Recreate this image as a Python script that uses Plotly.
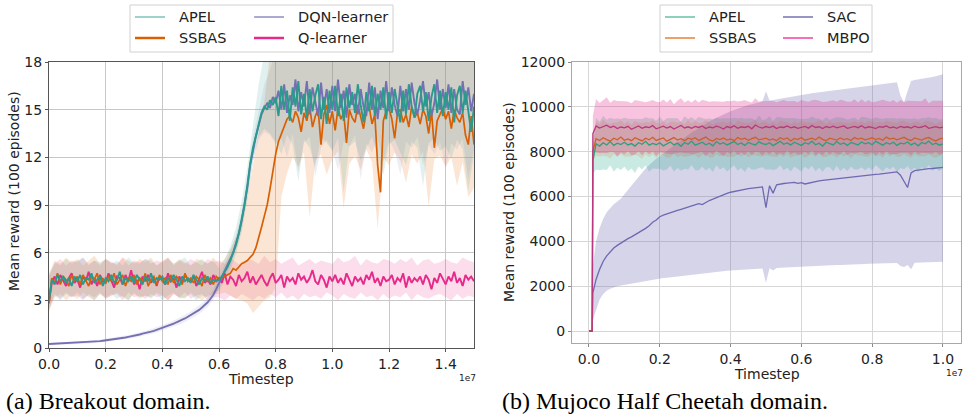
import plotly.graph_objects as go

# ---------------- Breakout (left) ----------------
breakout_steps = [i / 100 for i in range(151)]          # x in units of 1e7
band_steps = [i / 50 for i in range(76)]                 # band grid in units of 1e7

q_learner = [
    2.9, 4.1, 4.5, 4.0, 4.6, 4.2, 3.9, 4.4, 4.7, 4.1,
    4.3, 3.8, 4.5, 4.2, 4.8, 4.0, 4.4, 3.9, 4.6, 4.2,
    4.1, 4.7, 4.3, 3.8, 4.5, 4.4, 4.0, 4.6, 4.2, 4.9,
    4.0, 4.3, 3.7, 4.5, 4.2, 4.6, 4.1, 4.4, 3.9, 4.5,
    4.3, 4.0, 4.7, 4.2, 4.4, 3.8, 4.5, 4.1, 4.6, 4.3,
    4.2, 4.5, 3.9, 4.4, 4.8, 4.1, 4.3, 4.0, 4.6, 4.2,
    4.4, 4.1, 4.7, 4.0, 4.5, 4.3, 3.9, 4.6, 4.2, 4.4,
    4.8, 4.1, 4.5, 4.0, 4.3, 4.6, 4.2, 3.9, 4.4, 4.7,
    4.1, 4.3, 4.6, 3.8, 4.5, 4.2, 4.4, 4.0, 4.7, 4.3,
    4.5, 4.1, 4.4, 4.9, 4.2, 4.0, 4.6, 4.3, 3.8, 4.5,
    4.2, 4.6, 4.1, 4.4, 4.0, 4.7, 4.3, 3.9, 4.5, 4.2,
    4.4, 4.0, 4.6, 4.3, 4.8, 4.1, 4.4, 3.9, 4.5, 4.2,
    4.3, 4.6, 4.0, 4.4, 4.2, 4.7, 3.8, 4.5, 4.1, 4.4,
    4.2, 4.5, 4.0, 4.6, 4.3, 3.7, 4.4, 4.1, 4.7, 4.3,
    4.0, 4.5, 4.2, 4.8, 4.1, 4.4, 3.9, 4.6, 4.3, 4.5,
    4.2]

apel = [
    3.0, 4.3, 4.0, 4.6, 4.2, 4.5, 4.1, 4.4, 3.9, 4.5,
    4.2, 4.6, 4.0, 4.4, 4.3, 4.7, 4.1, 4.3, 4.5, 3.9,
    4.4, 4.2, 4.6, 4.1, 4.3, 4.8, 4.0, 4.4, 4.2, 4.5,
    4.1, 4.6, 4.3, 4.0, 4.5, 4.2, 4.7, 4.1, 4.4, 4.3,
    4.5, 4.0, 4.4, 4.2, 4.6, 4.3, 3.9, 4.5, 4.2, 4.4,
    4.1, 4.6, 4.3, 4.0, 4.4, 4.2, 4.5, 4.1, 4.3, 4.2,
    4.3, 4.5, 4.8, 5.1, 5.5, 6.0, 6.5, 7.2, 8.0, 9.0,
    10.2, 11.6, 12.6, 13.4, 14.1, 14.8, 15.2, 15.0, 15.6, 15.3,
    15.8, 14.6, 16.5, 15.0, 16.2, 14.3, 16.4, 15.2, 16.8, 14.7,
    16.0, 14.5, 16.3, 14.9, 15.9, 16.6, 14.4, 15.8, 14.1, 16.2,
    15.0, 16.5, 14.6, 16.0, 14.3, 16.4, 15.1, 16.1, 14.8, 16.6,
    15.3, 14.2, 16.1, 14.9, 16.5, 14.6, 16.0, 15.0, 16.4, 14.4,
    16.1, 14.8, 16.3, 15.1, 14.2, 16.2, 14.7, 16.6, 15.2, 14.5,
    16.0, 16.5, 14.9, 16.1, 14.3, 15.8, 16.6, 14.8, 16.2, 14.6,
    16.1, 15.0, 16.4, 14.2, 15.9, 16.5, 14.8, 16.2, 14.9, 13.6,
    15.2]

dqn = [
    0.25, 0.26, 0.25, 0.27, 0.28, 0.27, 0.29, 0.30, 0.29, 0.31,
    0.32, 0.33, 0.34, 0.35, 0.36, 0.37, 0.39, 0.41, 0.43, 0.46,
    0.48, 0.50, 0.53, 0.56, 0.58, 0.60, 0.63, 0.66, 0.70, 0.73,
    0.77, 0.81, 0.85, 0.90, 0.93, 0.98, 1.03, 1.08, 1.14, 1.20,
    1.27, 1.33, 1.38, 1.46, 1.53, 1.62, 1.68, 1.78, 1.86, 1.97,
    2.05, 2.16, 2.28, 2.40, 2.55, 2.70, 2.88, 3.10, 3.35, 3.70,
    4.10, 4.45, 4.80, 5.20, 5.60, 6.00, 6.60, 7.20, 8.00, 9.00,
    10.1, 11.5, 12.5, 13.3, 14.0, 14.7, 15.1, 15.4, 15.1, 15.8,
    15.4, 16.2, 15.0, 16.6, 14.8, 15.9, 15.3, 16.9, 14.9, 16.1,
    15.2, 16.8, 14.7, 16.4, 15.5, 14.6, 16.7, 15.0, 16.3, 14.8,
    16.5, 14.9, 16.9, 15.1, 16.2, 14.5, 16.6, 15.3, 16.0, 14.7,
    16.3, 15.2, 14.6, 16.7, 15.0, 16.4, 14.4, 16.2, 15.1, 16.8,
    14.9, 16.4, 15.3, 14.6, 16.5, 14.9, 16.3, 15.0, 16.7, 15.4,
    14.7, 15.6, 16.8, 15.2, 16.1, 14.6, 15.4, 16.9, 15.0, 16.3,
    15.1, 16.6, 14.8, 16.3, 15.0, 14.7, 16.8, 15.3, 16.4, 14.9,
    16.0]

ssbas = [
    2.8, 4.4, 4.1, 4.7, 4.0, 4.5, 4.3, 3.9, 4.6, 4.2,
    4.5, 4.0, 4.6, 4.2, 3.9, 4.5, 4.3, 4.7, 4.0, 4.4,
    4.1, 4.5, 4.2, 4.7, 4.0, 4.3, 4.6, 3.9, 4.4, 4.2,
    4.6, 4.0, 4.4, 4.2, 4.7, 3.9, 4.3, 4.5, 4.0, 4.6,
    4.2, 4.4, 4.0, 4.6, 4.1, 4.5, 4.3, 4.0, 4.7, 4.2,
    4.4, 4.1, 4.5, 4.3, 3.9, 4.6, 4.2, 4.4, 4.0, 4.5,
    4.3, 4.4, 4.5, 4.6, 4.7, 5.0, 4.9, 5.1, 5.3, 5.4,
    5.5, 5.7, 5.9, 6.3, 6.9, 7.6, 8.3, 9.0, 10.0, 11.1,
    12.2, 13.0, 13.5, 14.0, 14.4, 14.6, 14.2, 14.9, 14.5, 13.6,
    14.8, 14.3, 15.2, 13.9, 14.6, 15.0, 12.8, 14.7, 15.3, 14.1,
    14.9, 13.7, 15.1, 14.4, 14.8, 12.9, 15.0, 14.5, 14.2, 15.3,
    14.6, 13.8, 14.9, 15.2, 14.1, 14.7, 11.5, 9.8, 14.3, 14.9,
    15.1, 14.4, 13.2, 14.8, 15.0, 14.2, 14.7, 13.9, 15.2, 14.5,
    14.8, 14.1, 15.0, 14.6, 13.5, 14.9, 12.6, 14.3, 14.7, 15.1,
    14.4, 14.9, 13.8, 15.0, 14.5, 14.2, 14.8, 13.4, 12.8, 14.6,
    12.8]

q_lo = [
    2.5, 3.4, 3.1, 3.5, 3.2, 3.3, 3.0, 3.4, 3.2, 3.5,
    3.1, 3.3, 3.4, 3.0, 3.5, 3.2, 3.3, 3.1, 3.4, 3.2,
    3.3, 3.0, 3.4, 3.2, 3.5, 3.1, 3.3, 3.4, 3.0, 3.2,
    3.2, 3.0, 3.3, 3.1, 3.4, 3.2, 3.0, 3.3, 3.1, 3.4,
    3.2, 3.5, 3.1, 3.3, 3.0, 3.4, 3.2, 3.3, 3.1, 3.5,
    3.3, 3.0, 3.4, 3.2, 3.1, 3.5, 3.2, 3.3, 3.0, 3.4,
    3.1, 3.3, 3.2, 3.5, 3.0, 3.4, 3.2, 3.1, 3.3, 3.4,
    3.2, 3.0, 3.4, 3.1, 3.3, 3.2]
q_hi = [
    4.5, 5.3, 5.6, 5.2, 5.5, 5.4, 5.7, 5.3, 5.5, 5.2,
    5.6, 5.4, 5.3, 5.7, 5.2, 5.5, 5.4, 5.6, 5.3, 5.5,
    5.4, 5.7, 5.2, 5.5, 5.3, 5.6, 5.4, 5.2, 5.6, 5.4,
    5.5, 5.3, 5.7, 5.4, 5.2, 5.6, 5.5, 5.3, 5.8, 5.4,
    5.6, 5.3, 5.5, 5.7, 5.2, 5.4, 5.6, 5.3, 5.5, 5.4,
    5.3, 5.7, 5.4, 5.5, 5.8, 5.2, 5.6, 5.4, 5.3, 5.6,
    5.5, 5.3, 5.6, 5.4, 5.7, 5.2, 5.5, 5.6, 5.3, 5.4,
    5.6, 5.4, 5.3, 5.7, 5.5, 5.4]

apel_lo = [
    2.4, 3.3, 3.0, 3.4, 3.2, 3.5, 3.1, 3.3, 3.0, 3.4,
    3.2, 3.4, 3.1, 3.3, 3.0, 3.5, 3.2, 3.3, 3.1, 3.4,
    3.0, 3.3, 3.5, 3.1, 3.2, 3.4, 3.0, 3.3, 3.2, 3.4,
    3.6, 4.2, 4.9, 5.9, 7.3, 9.3, 11.8, 13.3, 13.8, 13.5,
    13.0, 12.2, 13.4, 12.8, 10.5, 13.1, 12.6, 11.4, 13.3, 12.9,
    12.4, 13.2, 9.8, 12.7, 13.0, 11.8, 12.5, 13.3, 12.1, 10.9,
    12.8, 13.1, 12.3, 11.5, 13.0, 12.6, 10.2, 12.9, 13.2, 12.4,
    12.7, 11.9, 13.1, 12.5, 9.9, 12.2]
apel_hi = [
    4.6, 5.4, 5.2, 5.6, 5.3, 5.5, 5.7, 5.2, 5.5, 5.4,
    5.6, 5.3, 5.5, 5.2, 5.7, 5.4, 5.3, 5.6, 5.5, 5.2,
    5.4, 5.6, 5.3, 5.5, 5.7, 5.2, 5.4, 5.6, 5.3, 5.5,
    5.0, 5.6, 6.4, 7.6, 9.2, 11.4, 14.0, 16.6, 18.5, 19.0,
    19.2, 18.8, 19.5, 19.0, 18.6, 19.3, 19.1, 18.7, 19.4, 19.0,
    18.9, 19.3, 18.6, 19.2, 19.0, 18.8, 19.4, 19.1, 18.7, 19.2,
    19.0, 18.8, 19.3, 19.1, 18.6, 19.2, 19.0, 18.9, 19.4, 18.7,
    19.1, 18.9, 19.2, 18.8, 19.0, 19.3]

dqn_lo = [
    0.17, 0.18, 0.20, 0.21, 0.21, 0.24, 0.26, 0.28, 0.31, 0.35,
    0.39, 0.44, 0.48, 0.53, 0.59, 0.65, 0.72, 0.79, 0.88, 0.98,
    1.10, 1.20, 1.34, 1.48, 1.64, 1.82, 2.03, 2.28, 2.58, 3.02,
    3.75, 4.40, 5.15, 6.10, 7.40, 9.4, 11.7, 13.1, 13.6, 13.4,
    12.8, 13.2, 12.0, 13.5, 11.1, 12.9, 13.3, 10.8, 12.6, 13.1,
    12.5, 11.2, 13.0, 12.7, 13.4, 10.6, 12.9, 12.3, 13.2, 11.7,
    13.1, 12.4, 10.9, 13.0, 12.6, 13.3, 11.5, 12.8, 12.2, 13.0,
    11.3, 12.9, 12.5, 13.2, 10.7, 12.6]
dqn_hi = [
    0.33, 0.33, 0.36, 0.38, 0.38, 0.41, 0.43, 0.45, 0.48, 0.52,
    0.58, 0.63, 0.69, 0.74, 0.82, 0.90, 0.98, 1.08, 1.19, 1.31,
    1.45, 1.57, 1.73, 1.89, 2.09, 2.29, 2.54, 2.83, 3.18, 3.68,
    4.45, 5.20, 6.05, 7.10, 8.60, 10.8, 13.3, 14.9, 16.6, 17.5,
    18.6, 19.0, 18.4, 19.2, 18.8, 18.5, 19.1, 18.7, 19.3, 18.9,
    18.8, 19.2, 18.5, 19.0, 18.7, 19.3, 18.9, 18.6, 19.1, 18.8,
    19.0, 18.7, 19.2, 18.5, 19.1, 18.8, 19.3, 18.9, 18.6, 19.0,
    18.8, 19.1, 18.7, 19.2, 18.9, 18.6]

ssbas_lo = [
    2.3, 3.2, 3.4, 3.0, 3.3, 3.1, 3.5, 3.2, 3.0, 3.4,
    3.1, 3.3, 3.5, 3.2, 3.0, 3.4, 3.1, 3.3, 3.2, 3.5,
    3.3, 3.0, 3.4, 3.2, 3.1, 3.5, 3.2, 3.0, 3.3, 3.4,
    3.4, 3.5, 3.3, 3.1, 3.0, 2.8, 2.2, 2.6, 3.0, 3.2,
    3.8, 9.5, 11.0, 12.0, 11.4, 12.3, 8.2, 11.8, 12.2, 10.9,
    11.9, 12.4, 8.8, 11.6, 12.1, 11.2, 12.5, 11.7, 7.5, 12.0,
    11.5, 12.3, 11.8, 10.4, 12.2, 11.6, 12.4, 8.9, 11.9, 12.1,
    11.4, 12.0, 10.2, 11.7, 9.5, 10.1]
ssbas_hi = [
    4.7, 5.5, 5.3, 5.7, 5.4, 5.6, 5.2, 5.5, 5.8, 5.3,
    5.6, 5.4, 5.2, 5.7, 5.5, 5.3, 5.6, 5.4, 5.7, 5.2,
    5.5, 5.7, 5.3, 5.6, 5.4, 5.2, 5.6, 5.5, 5.3, 5.7,
    5.3, 5.6, 6.2, 7.0, 8.2, 9.5, 11.5, 13.5, 15.5, 18.5,
    19.0, 18.8, 19.2, 18.7, 19.1, 18.9, 19.3, 18.6, 19.0, 18.8,
    19.2, 18.7, 19.0, 18.9, 19.3, 18.6, 19.1, 18.8, 19.0, 19.2,
    18.7, 19.1, 18.9, 19.3, 18.6, 19.0, 18.8, 19.2, 18.7, 19.1,
    18.9, 19.0, 18.7, 19.2, 18.8, 19.0]

breakout_x_ticks = [0.0, 0.2, 0.4, 0.6, 0.8, 1.0, 1.2, 1.4]
breakout_x_labels = ["0.0", "0.2", "0.4", "0.6", "0.8", "1.0", "1.2", "1.4"]
breakout_y_ticks = [0, 3, 6, 9, 12, 15, 18]
breakout_names = ["APEL", "SSBAS", "DQN-learner", "Q-learner"]

# ---------------- Half Cheetah (right) ----------------
hc_steps = [0.0, 0.009, 0.011] + [k / 100 for k in range(2, 101)]   # units of 1e7

sac = [0, 0, 1700,
    2300, 2750, 3100, 3350, 3550, 3700, 3820, 3930,
    4030, 4120, 4200, 4290, 4380, 4480, 4580, 4700, 4850, 4950,
    5100, 5170, 5230, 5280, 5330, 5380, 5430, 5480, 5510, 5560,
    5620, 5680, 5640, 5750, 5820, 5880, 5950, 6030, 6090, 6140,
    6190, 6230, 6260, 6290, 6320, 6350, 6380, 6400, 6410, 6430,
    5500, 6480, 6150, 6520, 6560, 6580, 6600, 6610, 6630, 6590,
    6620, 6560, 6600, 6650, 6680, 6700, 6720, 6740, 6760, 6780,
    6800, 6820, 6830, 6850, 6870, 6890, 6900, 6920, 6940, 6950,
    6970, 6990, 7000, 7020, 7040, 7060, 7080, 7100, 6950, 6700,
    6400, 7050, 7150, 7180, 7210, 7230, 7240, 7250, 7260, 7280,
    7300]
sac_lo = [0, 0, 500,
    900, 1400, 1650, 1800, 1880, 1950, 2000, 2030,
    2060, 2090, 2120, 2150, 2180, 2210, 2240, 2270, 2300, 2320,
    2340, 2360, 2380, 2400, 2420, 2440, 2460, 2480, 2500, 2520,
    2540, 2560, 2580, 2600, 2620, 2640, 2650, 2670, 2680, 2690,
    2700, 2710, 2720, 2730, 2740, 2750, 2760, 2770, 2780, 2790,
    2150, 2800, 2700, 2810, 2820, 2830, 2840, 2850, 2855, 2860,
    2870, 2880, 2885, 2890, 2900, 2905, 2910, 2920, 2930, 2940,
    2950, 2950, 2960, 2965, 2970, 2975, 2980, 2985, 2990, 2995,
    3000, 3005, 3010, 3015, 3020, 3025, 3030, 3035, 2900, 2850,
    2950, 2750, 3040, 3050, 3055, 3060, 3065, 3070, 3075, 3080,
    3090]
sac_hi = [0, 0, 2900,
    4000, 4600, 5000, 5300, 5500, 5650, 5780, 5900,
    6100, 6300, 6500, 6700, 6900, 7100, 7250, 7400, 7550, 7680,
    7800, 7920, 8040, 8160, 8280, 8400, 8520, 8640, 8760, 8870,
    8940, 9050, 9150, 9250, 9350, 9430, 9510, 9590, 9660, 9730,
    9800, 9860, 9920, 9980, 10030, 10080, 10120, 10160, 10200, 10240,
    10700, 10280, 10310, 10340, 10370, 10400, 10430, 10460, 10490, 10510,
    10540, 10570, 10590, 10610, 10630, 10650, 10680, 10700, 10720, 10740,
    10760, 10780, 10800, 10820, 10840, 10860, 10880, 10900, 10920, 10940,
    10960, 10980, 11000, 11020, 11040, 11060, 11080, 11100, 10500, 10200,
    10700, 11150, 11200, 11220, 11250, 11280, 11300, 11330, 11360, 11400,
    11450]

apel_hc = [0, 0, 7600,
    8350, 8250, 8400, 8300, 8450, 8280, 8380, 8320,
    8420, 8300, 8360, 8250, 8400, 8330, 8460, 8290, 8370, 8310,
    8400, 8260, 8350, 8430, 8300, 8380, 8240, 8410, 8330, 8470,
    8290, 8360, 8420, 8310, 8380, 8260, 8450, 8340, 8400, 8300,
    8370, 8450, 8320, 8390, 8280, 8410, 8350, 8300, 8440, 8360,
    8320, 8400, 8270, 8380, 8460, 8330, 8390, 8300, 8420, 8350,
    8280, 8400, 8340, 8470, 8310, 8380, 8250, 8420, 8360, 8300,
    8450, 8330, 8390, 8280, 8410, 8360, 8300, 8430, 8350, 8400,
    8310, 8460, 8370, 8290, 8400, 8340, 8420, 8280, 8380, 8350,
    8430, 8300, 8390, 8260, 8410, 8350, 8470, 8320, 8380, 8290,
    8350]
apel_hc_spread = [0, 0, 600,
    1150, 1080, 1200, 1120, 1060, 1180, 1100, 1140,
    1090, 1170, 1110, 1200, 1060, 1130, 1080, 1190, 1120, 1070,
    1160, 1100, 1140, 1050, 1180, 1110, 1090, 1170, 1130, 1060,
    1120, 1190, 1080, 1150, 1100, 1170, 1060, 1130, 1090, 1180,
    1110, 1060, 1160, 1120, 1190, 1080, 1140, 1100, 1170, 1050,
    1130, 1180, 1090, 1150, 1070, 1160, 1110, 1190, 1080, 1120,
    1170, 1060, 1140, 1100, 1180, 1090, 1150, 1120, 1060, 1170,
    1080, 1190, 1110, 1140, 1070, 1160, 1100, 1130, 1180, 1090,
    1150, 1060, 1120, 1170, 1100, 1140, 1080, 1190, 1110, 1130,
    1070, 1160, 1100, 1180, 1090, 1140, 1060, 1170, 1120, 1150,
    1100]

ssbas_hc = [0, 0, 8000,
    8580, 8500, 8620, 8540, 8470, 8600, 8530, 8650,
    8510, 8570, 8490, 8620, 8550, 8480, 8600, 8530, 8640, 8500,
    8560, 8610, 8470, 8540, 8630, 8520, 8580, 8490, 8600, 8550,
    8620, 8500, 8570, 8650, 8530, 8480, 8590, 8540, 8610, 8520,
    8570, 8490, 8630, 8550, 8600, 8510, 8580, 8640, 8530, 8560,
    8600, 8520, 8570, 8490, 8620, 8550, 8610, 8480, 8590, 8540,
    8630, 8510, 8570, 8600, 8530, 8650, 8550, 8490, 8600, 8560,
    8520, 8610, 8540, 8580, 8500, 8630, 8560, 8600, 8530, 8570,
    8620, 8540, 8590, 8510, 8650, 8560, 8600, 8530, 8580, 8640,
    8550, 8500, 8610, 8560, 8520, 8590, 8630, 8540, 8480, 8570,
    8600]
ssbas_hc_spread = [0, 0, 400,
    760, 720, 800, 740, 780, 700, 770, 750,
    730, 790, 710, 760, 740, 800, 720, 770, 750, 780,
    700, 760, 740, 790, 720, 770, 750, 730, 800, 710,
    760, 780, 720, 750, 790, 740, 700, 770, 730, 760,
    790, 720, 750, 780, 710, 760, 740, 800, 730, 770,
    750, 720, 780, 740, 760, 790, 710, 750, 770, 730,
    760, 800, 740, 720, 770, 750, 790, 730, 760, 710,
    780, 740, 760, 720, 790, 750, 730, 770, 740, 800,
    720, 760, 750, 780, 730, 770, 710, 760, 790, 740,
    750, 770, 730, 760, 720, 790, 740, 780, 750, 760,
    750]

mbpo = [0, 0, 8800,
    9150, 9050, 9120, 9180, 9080, 9140, 9030, 9100,
    9060, 9130, 9000, 9090, 9150, 9040, 9110, 9070, 9160, 9020,
    9090, 9140, 9050, 9120, 9010, 9100, 9170, 9060, 9110, 9040,
    9130, 9080, 9150, 9030, 9100, 9060, 9140, 9090, 9010, 9120,
    9070, 9160, 9040, 9110, 9080, 9130, 9020, 9190, 9100, 9050,
    9120, 9070, 9140, 9030, 9100, 9080, 9150, 9060, 9110, 9040,
    9090, 9130, 9050, 9170, 9080, 9110, 9030, 9120, 9070, 9140,
    9060, 9100, 9150, 9040, 9090, 9130, 9070, 9160, 9050, 9110,
    9080, 9030, 9120, 9090, 9150, 9060, 9100, 9040, 9130, 9080,
    9110, 9050, 9140, 9070, 9100, 9160, 9040, 9090, 9120, 9060,
    9100]
mbpo_spread = [0, 0, 800,
    1200, 1120, 1180, 1250, 1100, 1170, 1230, 1140,
    1190, 1110, 1160, 1220, 1130, 1200, 1090, 1180, 1150, 1210,
    1120, 1190, 1140, 1230, 1100, 1170, 1210, 1130, 1180, 1150,
    1200, 1110, 1170, 1240, 1130, 1190, 1100, 1160, 1220, 1140,
    1180, 1120, 1200, 1150, 1230, 1110, 1170, 1190, 1130, 1210,
    1140, 1200, 1120, 1180, 1160, 1220, 1100, 1190, 1150, 1170,
    1210, 1130, 1180, 1120, 1240, 1160, 1190, 1110, 1200, 1150,
    1170, 1220, 1130, 1190, 1140, 1210, 1120, 1180, 1160, 1200,
    1110, 1190, 1150, 1230, 1130, 1170, 1200, 1140, 1180, 1120,
    1160, 1210, 1130, 1190, 1150, 1220, 1120, 1180, 1140, 1200,
    1170]

hc_x_ticks = [0.0, 0.2, 0.4, 0.6, 0.8, 1.0]
hc_x_labels = ["0.0", "0.2", "0.4", "0.6", "0.8", "1.0"]
hc_y_ticks = [0, 2000, 4000, 6000, 8000, 10000, 12000]
hc_y_labels = ["0", "2000", "4000", "6000", "8000", "10000", "12000"]
hc_names = ["APEL", "SSBAS", "SAC", "MBPO"]

# ---------------- styling ----------------
W, H = 966, 417
FONT = "DejaVu Sans"
C_APEL_L = "#2a9a8c"
C_APEL_R = "#2e9f78"
C_ORANGE = "#d95f02"
C_PURPLE = "#7570b3"
C_PINK = "#e7298a"


def px(x):
    return x / W


def py(y):
    return 1 - y / H


fig = go.Figure()


def band(x, lo, hi, color, xa, ya):
    fig.add_trace(go.Scatter(x=x, y=hi, mode="lines", line=dict(width=0),
                             hoverinfo="skip", showlegend=False, xaxis=xa, yaxis=ya))
    fig.add_trace(go.Scatter(x=x, y=lo, mode="lines", line=dict(width=0), fill="tonexty",
                             fillcolor=color, hoverinfo="skip", showlegend=False,
                             xaxis=xa, yaxis=ya))


def line(x, y, color, width, xa, ya, name):
    fig.add_trace(go.Scatter(x=x, y=y, mode="lines", line=dict(color=color, width=width),
                             name=name, showlegend=False, xaxis=xa, yaxis=ya))


# left bands
band(band_steps, q_lo, q_hi, "rgba(231,41,138,0.16)", "x", "y")
band(band_steps, ssbas_lo, ssbas_hi, "rgba(240,150,80,0.24)", "x", "y")
band(band_steps, dqn_lo, dqn_hi, "rgba(117,112,179,0.12)", "x", "y")
band(band_steps, apel_lo, apel_hi, "rgba(42,154,140,0.14)", "x", "y")
# left lines
line(breakout_steps, q_learner, C_PINK, 1.9, "x", "y", breakout_names[3])
line(breakout_steps, ssbas, C_ORANGE, 1.7, "x", "y", breakout_names[1])
line(breakout_steps, dqn, C_PURPLE, 1.9, "x", "y", breakout_names[2])
line(breakout_steps, apel, C_APEL_L, 1.9, "x", "y", breakout_names[0])

# right bands
band(hc_steps, sac_lo, sac_hi, "rgba(117,112,179,0.30)", "x2", "y2")
band(hc_steps, [m - s for m, s in zip(apel_hc, apel_hc_spread)],
     [m + s for m, s in zip(apel_hc, apel_hc_spread)], "rgba(60,180,150,0.28)", "x2", "y2")
band(hc_steps, [m - s for m, s in zip(ssbas_hc, ssbas_hc_spread)],
     [m + s for m, s in zip(ssbas_hc, ssbas_hc_spread)], "rgba(217,95,2,0.15)", "x2", "y2")
band(hc_steps, [m - s for m, s in zip(mbpo, mbpo_spread)],
     [m + s for m, s in zip(mbpo, mbpo_spread)], "rgba(231,41,138,0.28)", "x2", "y2")
# right lines
line(hc_steps, sac, "#6e69b0", 1.3, "x2", "y2", hc_names[2])
line(hc_steps, apel_hc, C_APEL_R, 1.3, "x2", "y2", hc_names[0])
line(hc_steps, ssbas_hc, "#c9622a", 1.3, "x2", "y2", hc_names[1])
line(hc_steps, mbpo, "#b8387f", 1.3, "x2", "y2", hc_names[3])

axis_common = dict(showgrid=True, zeroline=False, showline=True, mirror=True, automargin=False,
                   ticks="outside", ticklen=3, tickfont=dict(family=FONT, size=14, color="#222"))

fig.update_layout(
    width=W, height=H, margin=dict(l=0, r=0, t=0, b=0, autoexpand=False),
    paper_bgcolor="white", plot_bgcolor="white", showlegend=False,
    font=dict(family=FONT, size=14, color="#222"),
    xaxis=dict(domain=[px(49), px(474)], range=[0, 1.5], tickvals=breakout_x_ticks,
               ticktext=breakout_x_labels, gridcolor="#c8c8c8", linecolor="#555",
               tickcolor="#555", anchor="y", **axis_common),
    yaxis=dict(domain=[py(348), py(62)], range=[0, 18], tickvals=breakout_y_ticks,
               gridcolor="#c8c8c8", linecolor="#555", tickcolor="#555", anchor="x",
               **axis_common),
    xaxis2=dict(domain=[px(572), px(961)], range=[-0.048, 1.051], tickvals=hc_x_ticks,
                ticktext=hc_x_labels, gridcolor="#d6d6d6", linecolor="#a8a8a8",
                tickcolor="#888", anchor="y2", **axis_common),
    yaxis2=dict(domain=[py(343), py(62)], range=[-535, 12000], tickvals=hc_y_ticks,
                ticktext=hc_y_labels, gridcolor="#d6d6d6", linecolor="#a8a8a8",
                tickcolor="#888", anchor="x2", **axis_common),
)

ann = []


def text(x, y, s, size=14, family=FONT, xanchor="center", angle=0, color="#222"):
    ann.append(dict(x=px(x), y=py(y), xref="paper", yref="paper", text=s, showarrow=False,
                    xanchor=xanchor, yanchor="middle", textangle=angle,
                    font=dict(family=family, size=size, color=color)))


text(14, 191, "Mean reward (100 episodes)", angle=-90)
text(509, 202, "Mean reward (100 episodes)", angle=-90)
text(261, 379, "Timestep")
text(767, 374, "Timestep")
text(467, 378, "1e7", size=9)
text(954, 373, "1e7", size=9)
text(4, 401, "(a) Breakout domain.", size=24, family="Liberation Serif", xanchor="left", color="#000")
text(500, 401, "(b) Mujoco Half Cheetah domain.", size=24, family="Liberation Serif",
     xanchor="left", color="#000")

shapes = []


def legend(box, entries):
    x0, x1 = box
    shapes.append(dict(type="rect", xref="paper", yref="paper", x0=px(x0), x1=px(x1),
                       y0=py(52), y1=py(5), line=dict(color="#d0d0d0", width=1),
                       fillcolor="white", layer="above"))
    for (lx, ty, name, color, width) in entries:
        shapes.append(dict(type="line", xref="paper", yref="paper", x0=px(lx), x1=px(lx + 30),
                           y0=py(ty), y1=py(ty), line=dict(color=color, width=width),
                           layer="above"))
        text(lx + 42, ty, name, size=14.5, xanchor="left")


legend((130, 393), [
    (135, 17, breakout_names[0], "#7cc4b8", 1.5),
    (135, 38, breakout_names[1], C_ORANGE, 2.5),
    (254, 17, breakout_names[2], C_PURPLE, 1.2),
    (254, 38, breakout_names[3], C_PINK, 2.5),
])
legend((660, 872), [
    (665, 17, hc_names[0], "#66c2a5", 1.5),
    (665, 38, hc_names[1], "#e7803a", 1.5),
    (783, 17, hc_names[2], C_PURPLE, 1.5),
    (783, 38, hc_names[3], "#f040a0", 1.5),
])

fig.update_layout(annotations=ann, shapes=shapes)
fig.write_html("out.html", config={"displayModeBar": False},
               post_script="document.body.style.margin='0px';document.body.style.overflow='hidden';")
